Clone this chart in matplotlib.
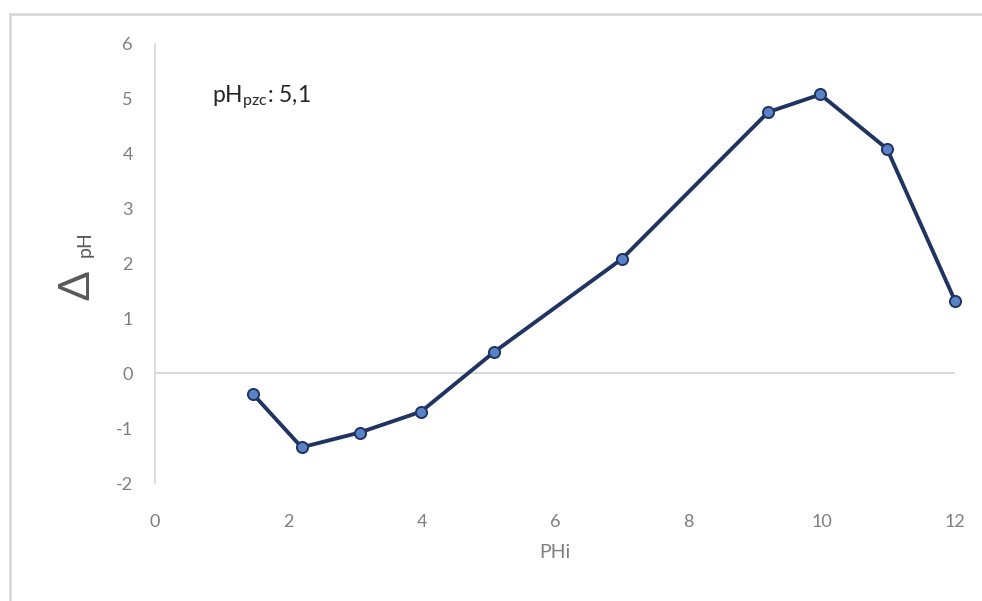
import matplotlib
matplotlib.use("Agg")
import matplotlib.pyplot as plt
from matplotlib.patches import Rectangle

# Initial pH versus pH shift (salt addition method)
ph_initial = [1.47, 2.2, 3.07, 3.99, 5.09, 7.0, 9.2, 9.98, 10.98, 12.0]
delta_ph = [-0.38, -1.35, -1.08, -0.70, 0.39, 2.08, 4.76, 5.08, 4.09, 1.32]
x_ticks = [0, 2, 4, 6, 8, 10, 12]
y_ticks = [-2, -1, 0, 1, 2, 3, 4, 5, 6]

plt.rcParams['font.family'] = ['Lato', 'DejaVu Sans']
plt.rcParams['mathtext.fontset'] = 'custom'
plt.rcParams['mathtext.rm'] = 'Lato'
plt.rcParams['axes.unicode_minus'] = False

W, H = 982, 601
fig = plt.figure(figsize=(W / 100, H / 100), dpi=100)
fig.patch.set_facecolor('white')

# light chart-area frame
fig.patches.append(Rectangle((10 / W, -0.2), 1.2, 1.2 - 14 / H,
                             transform=fig.transFigure, fill=False,
                             edgecolor='#d9d9d9', linewidth=2.0))

ax = fig.add_axes([155 / W, 1 - 483 / H, 800 / W, 439 / H])
ax.set_xlim(0, 12)
ax.set_ylim(-2, 6)

for s in ['top', 'right', 'bottom']:
    ax.spines[s].set_visible(False)
ax.spines['left'].set_color('#d9d9d9')
ax.spines['left'].set_linewidth(1.3)
ax.axhline(0, color='#d9d9d9', linewidth=1.5, zorder=1)

ax.plot(ph_initial, delta_ph, color='#1f3460', linewidth=2.8,
        marker='o', markersize=8, markerfacecolor='#5b82c6',
        markeredgecolor='#1f3460', markeredgewidth=1.4, zorder=3,
        clip_on=False)

ax.set_xticks(x_ticks)
ax.set_yticks(y_ticks)
ax.tick_params(axis='both', length=0, labelsize=13, labelcolor='#7f7f7f')
ax.tick_params(axis='x', pad=22)
ax.tick_params(axis='y', pad=16)

ax.text(0.071, 0.877, 'pH$_{\\mathregular{pzc}}$: 5,1', transform=ax.transAxes,
        fontsize=16.5, color='#262626', ha='left', va='center')

fig.text(555 / W, 1 - 553 / H, 'PHi', fontsize=14, color='#7f7f7f',
         ha='center', va='center')

# y-axis title: large delta followed by smaller pH
fig.text(77 / W, 1 - 285 / H, 'Δ', fontsize=31, color='#595959',
         rotation=90, ha='center', va='center')
fig.text(85 / W, 1 - 244 / H, 'pH', fontsize=14, color='#595959',
         rotation=90, ha='center', va='center')

fig.savefig('out.png', dpi=100, facecolor='white')
